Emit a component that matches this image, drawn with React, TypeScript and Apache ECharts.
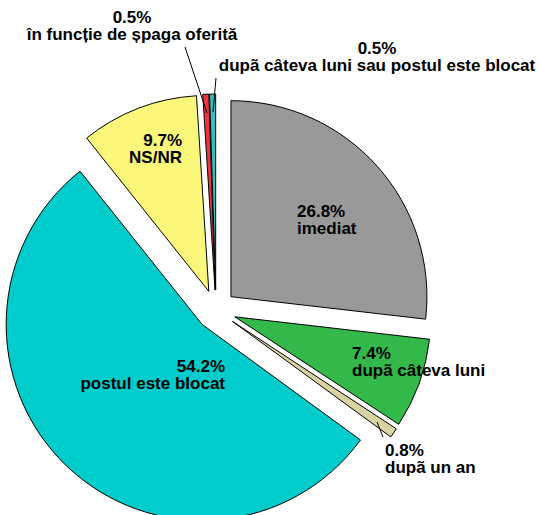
import React, { useEffect, useRef } from "react";
import * as echarts from "echarts";

const categories = [
  "imediat",
  "dupã câteva luni",
  "dupã un an",
  "postul este blocat",
  "NS/NR",
  "în funcție de șpaga oferită",
  "dupã câteva luni sau postul este blocat",
];
const values = [26.8, 7.4, 0.8, 54.2, 9.7, 0.5, 0.5];
const colors = ["#999999", "#33B84A", "#D8D3A0", "#00CCCC", "#FAF77A", "#EE3340", "#33BFC0"];

type LP = { x: number; y: number; align: string; line?: number[][] };
const labelLayoutPos: LP[] = [
  { x: 297, y: 203, align: "left" },
  { x: 352, y: 345, align: "left" },
  { x: 385, y: 442, align: "left", line: [[377, 422], [383, 437]] },
  { x: 225, y: 358, align: "right" },
  { x: 182, y: 132, align: "right" },
  { x: 132, y: 9, align: "center", line: [[185, 47], [207, 113]] },
  { x: 377, y: 40, align: "center", line: [[216, 78], [213, 112]] },
];

export default function App() {
  const ref = useRef<HTMLDivElement>(null);
  useEffect(() => {
    if (!ref.current) return;
    const chart = echarts.init(ref.current, null, { renderer: "svg" });
    const graphics: any[] = [];
    categories.forEach((name, i) => {
      const p = labelLayoutPos[i];
      graphics.push({
        type: "text",
        x: p.x,
        y: p.y,
        z: 100,
        style: {
          text: `${values[i].toFixed(1)}%\n${name}`,
          fill: "#000",
          fontFamily: "Liberation Sans, Arial, sans-serif",
          fontWeight: "bold",
          fontSize: 17,
          lineHeight: 17,
          align: p.align,
          verticalAlign: "top",
        },
      });
      if (p.line) {
        graphics.push({
          type: "polyline",
          z: 100,
          shape: { points: p.line },
          style: { stroke: "#000", lineWidth: 1, fill: null },
        });
      }
    });
    chart.setOption({
      animation: false,
      backgroundColor: "#ffffff",
      graphic: graphics,
      series: [
        {
          type: "pie",
          center: [216, 310],
          radius: [0, 196],
          startAngle: 90,
          clockwise: true,
          selectedMode: "multiple",
          selectedOffset: 20,
          avoidLabelOverlap: false,
          emphasis: { disabled: true },
          itemStyle: { borderColor: "#000", borderWidth: 1 },
          label: { show: false },
          labelLine: { show: false },
          data: categories.map((name, i) => ({
            name,
            value: values[i],
            selected: true,
            itemStyle: { color: colors[i] },
          })),
        },
      ],
    });
    return () => chart.dispose();
  }, []);
  return (
    <div
      ref={ref}
      style={{ position: "absolute", left: 0, top: 0, width: 539, height: 515 }}
    />
  );
}
